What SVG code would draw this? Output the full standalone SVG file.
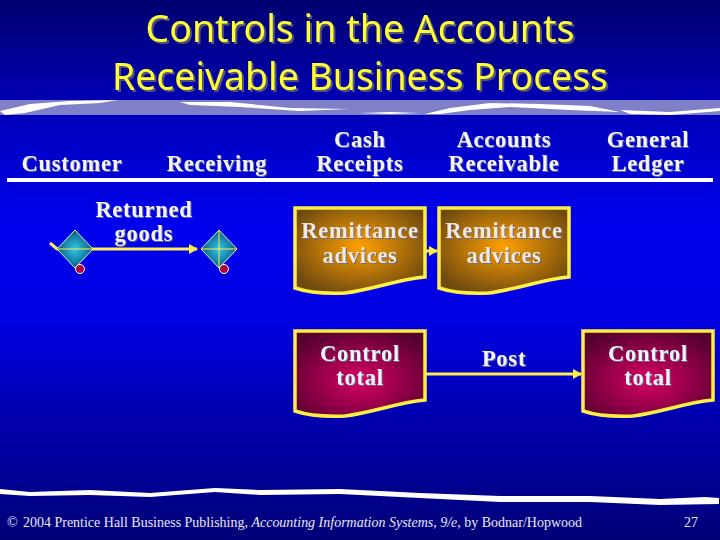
<svg xmlns="http://www.w3.org/2000/svg" width="720" height="540" viewBox="0 0 720 540">
<style>
.t{font-family:"Liberation Serif","Times New Roman",serif;font-size:22.5px;font-weight:bold;fill:#f4f4ff;text-anchor:middle;letter-spacing:.75px;filter:drop-shadow(1.2px 1.2px 0 #6a6a90)}
.d{fill:#f6e8d8}
.h{font-family:"Noto Sans","Open Sans",sans-serif;font-size:38px;fill:#ffff33;text-anchor:middle;filter:drop-shadow(2px 2px 0 #55557a)}
.f{font-family:"Liberation Serif","Times New Roman",serif;font-size:14px;fill:#e8e8f0}
.doc{stroke:#ffee44;stroke-width:3.5}
.ln{stroke:#ffee55;stroke-width:3;fill:none}
.wh{fill:#fff}
.dia{stroke:#ccffaa;stroke-width:1;fill:url(#gd)}
.cir{fill:#b00040;stroke:#fff;stroke-width:1}
</style>
<defs>
<linearGradient id="bg" x1="0" y1="0" x2="0" y2="1"><stop offset="0" stop-color="#000070"/><stop offset=".2" stop-color="#0000b8"/><stop offset=".42" stop-color="#0000ee"/><stop offset=".6" stop-color="#0000e0"/><stop offset=".8" stop-color="#0000a8"/><stop offset="1" stop-color="#000078"/></linearGradient>
<radialGradient id="go" cx=".5" cy=".45" r=".6"><stop offset="0" stop-color="#ffa000"/><stop offset="1" stop-color="#6e4a10"/></radialGradient>
<radialGradient id="gr" cx=".5" cy=".58" r=".62"><stop offset="0" stop-color="#d80064"/><stop offset="1" stop-color="#580030"/></radialGradient>
<radialGradient id="gd"><stop offset="0" stop-color="#30c8e8"/><stop offset="1" stop-color="#0a5a80"/></radialGradient>
<marker id="a" markerUnits="userSpaceOnUse" markerWidth="10" markerHeight="12" refX="8" refY="5" orient="auto"><path d="M0 0L9 5L0 10Z" fill="#ffee44"/></marker>
</defs>
<rect width="720" height="540" fill="url(#bg)"/>
<rect y="100" width="720" height="15" fill="#8080c8"/>
<g id="rule-top" class="wh">
<path d="M0 111L30 104L70 101L118 100L100 103L60 105L25 113L5 115Z"/>
<path d="M180 102L230 102L290 108L350 109L300 111L240 107L190 105Z"/>
<path d="M360 113L390 112L420 113L390 114Z"/>
<path d="M425 114L450 108L490 103L540 104L590 106L620 112L570 110L510 107L470 110L440 114Z"/>
<path d="M620 110L670 112L720 108L720 111L670 115L630 114Z"/>
</g>
<text class="h" x="360" y="42" textLength="429" lengthAdjust="spacingAndGlyphs">Controls in the Accounts</text>
<text class="h" x="360" y="90" textLength="496" lengthAdjust="spacingAndGlyphs">Receivable Business Process</text>
<rect id="header-rule" x="7" y="178" width="706" height="4" fill="#fff"/>
<g id="headers">
<text class="t" x="72" y="171">Customer</text>
<text class="t" x="217" y="171">Receiving</text>
<text class="t" x="360" y="147">Cash</text><text class="t" x="360" y="171">Receipts</text>
<text class="t" x="504" y="147">Accounts</text><text class="t" x="504" y="171">Receivable</text>
<text class="t" x="648" y="147">General</text><text class="t" x="648" y="171">Ledger</text>
</g>
<g id="connectors">
<path class="ln" d="M50 243L57 249H197" marker-end="url(#a)"/>
<path class="ln" d="M426 251H437" marker-end="url(#a)"/>
<path class="ln" d="M426 374H581" marker-end="url(#a)"/>
</g>
<g id="returned-goods"><text class="t" x="144" y="217">Returned</text><text class="t" x="144" y="241">goods</text></g>
<g id="customer-diamond"><path class="dia" d="M75 230L93 249L75 268L57 249Z"/><path d="M57 249H93" stroke="#ffee44" stroke-width="1"/><circle class="cir" cx="80" cy="269" r="4.500"/></g>
<g id="receiving-diamond"><path class="dia" d="M219 230L237 249L219 268L201 249Z"/><path d="M201 249H237M219 230V268" stroke="#ffee44" stroke-width="1"/><circle class="cir" cx="224" cy="269" r="4.500"/></g>
<g id="doc-remit-1"><path class="doc" fill="url(#go)" d="M295 208H425V277C395 280 375 289 345 293C325 294 310 293 295 288Z"/><text class="t d" x="360" y="238">Remittance</text><text class="t d" x="360" y="263">advices</text></g>
<g id="doc-remit-2"><path class="doc" fill="url(#go)" d="M439 208H569V277C539 280 519 289 489 293C469 294 454 293 439 288Z"/><text class="t d" x="504" y="238">Remittance</text><text class="t d" x="504" y="263">advices</text></g>
<g id="doc-control-1"><path class="doc" fill="url(#gr)" d="M295 331H425V400C395 403 375 412 345 416C325 417 310 416 295 411Z"/><text class="t" x="360" y="361">Control</text><text class="t" x="360" y="385">total</text></g>
<g id="post"><text class="t" x="504" y="366">Post</text></g>
<g id="doc-control-2"><path class="doc" fill="url(#gr)" d="M583 331H713V400C683 403 663 412 633 416C613 417 598 416 583 411Z"/><text class="t" x="648" y="361">Control</text><text class="t" x="648" y="385">total</text></g>
<path id="rule-bottom" class="wh" d="M0 489L30 492L90 490L150 493L215 488L260 490L340 489L420 493L500 496L590 496L660 499L705 497L719 498V504L660 505L590 502L500 502L420 498L340 494L260 495L215 492L150 497L90 495L30 496L0 494Z"/>
<text class="f" x="7" y="527">©</text>
<text class="f" x="23" y="527" textLength="559" lengthAdjust="spacingAndGlyphs">2004 Prentice Hall Business Publishing, <tspan font-style="italic">Accounting Information Systems, 9/e</tspan>, by Bodnar/Hopwood</text>
<text class="f" x="684" y="527">27</text>
</svg>
